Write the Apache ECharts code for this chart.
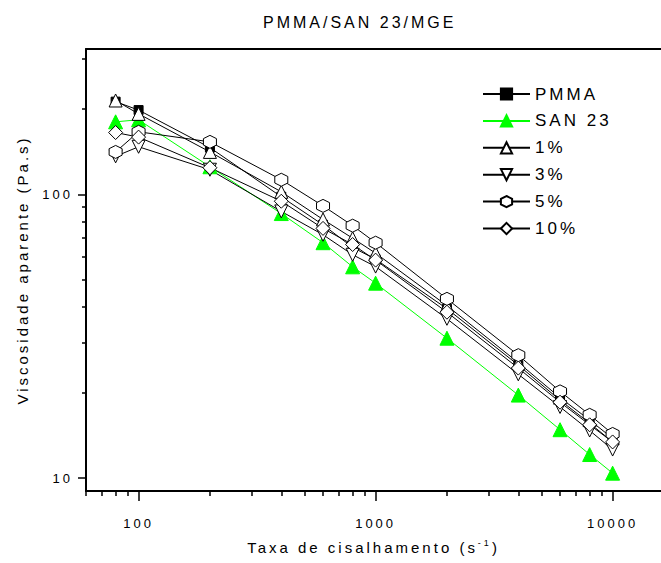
<!DOCTYPE html>
<html>
<head>
<meta charset="utf-8">
<script src="https://cdn.jsdelivr.net/npm/echarts@6/dist/echarts.min.js"></script>
<style>
  html, body { margin: 0; padding: 0; background: #fff; }
  #chart { width: 661px; height: 563px; letter-spacing: 3px; }
</style>
</head>
<body>
<div id="chart"></div>
<script>
// Shear rates (s^-1) and apparent viscosities (Pa.s) for each blend
const shearRates = [80, 100, 200, 400, 600, 800, 1000, 2000, 4000, 6000, 8000, 10000];
const pmma   = [212, 198, 146, 98, 78, 65, 59, 39.5, 25, 18.8, 15.6, 13.4];
const san23  = [180, 183, 125, 85.5, 67.5, 55.5, 48.6, 31.1, 19.6, 14.8, 12.1, 10.4];
const pct1   = [214, 192, 141, 102, 81.5, 70, 62, 40.5, 25.5, 19.2, 16, 13.8];
const pct3   = [136, 147, 122, 87, 72, 61.2, 55.6, 36.4, 23.2, 17.8, 14.7, 12.6];
const pct5   = [141, 166, 153, 112.5, 91, 77.5, 67.5, 42.8, 27.1, 20.2, 16.7, 14.3];
const pct10  = [165, 159, 124, 94.5, 75.8, 66.5, 58.6, 38.4, 24.4, 18.5, 15.4, 13.4];

const seriesNames = ['PMMA', 'SAN 23', '1%', '3%', '5%', '10%'];

// Axis ticks
const xMajorTicks = [100, 1000, 10000];
const xMinorTicks = [60, 70, 80, 90, 200, 300, 400, 500, 600, 700, 800, 900,
                     2000, 3000, 4000, 5000, 6000, 7000, 8000, 9000];
const yMajorTicks = [10, 100];
const yMinorTicks = [20, 30, 40, 50, 60, 70, 80, 90, 200, 300];

// Text is drawn with wide letter spacing; measure it the same way so layout stays aligned
const LETTER_SPACING = '3px';
const measureCtx = document.createElement('canvas').getContext('2d');
echarts.setPlatformAPI({
  measureText(text, font) {
    measureCtx.font = font || '12px sans-serif';
    measureCtx.letterSpacing = LETTER_SPACING;
    return measureCtx.measureText(text);
  }
});

const hexagon = 'path://M1,0 L1.866,0.5 L1.866,1.5 L1,2 L0.134,1.5 L0.134,0.5 Z';

function pairs(ys) { return shearRates.map((x, i) => [x, ys[i]]); }

function mkSeries(name, ys, opts) {
  return Object.assign({
    name: name,
    type: 'line',
    xAxisIndex: 0,
    yAxisIndex: 0,
    data: pairs(ys),
    lineStyle: { color: '#000', width: 1 },
    itemStyle: { color: '#fff', borderColor: '#000', borderWidth: 1 },
    symbolSize: 13,
    emphasis: { disabled: true },
    silent: true
  }, opts);
}

const xRange = { min: 60, max: 16000 };
const yRange = { min: 9, max: 325 };
const axisFont = { fontFamily: 'Liberation Sans, Arial, sans-serif', color: '#000' };

const chart = echarts.init(document.getElementById('chart'), null, { renderer: 'svg' });
chart.setOption({
  animation: false,
  backgroundColor: '#fff',
  title: {
    text: 'PMMA/SAN 23/MGE',
    left: 263,
    top: 13,
    padding: 0,
    textStyle: Object.assign({ fontSize: 16, fontWeight: 'normal' }, axisFont)
  },
  grid: { left: 86, right: 0, top: 49, bottom: 72 },
  legend: {
    orient: 'vertical',
    left: 477,
    top: 79,
    itemWidth: 47,
    itemHeight: 14,
    itemGap: 6.9,
    selectedMode: false,
    data: seriesNames,
    textStyle: Object.assign({ fontSize: 17 }, axisFont)
  },
  xAxis: [
    {
      type: 'log', logBase: 10, min: xRange.min, max: xRange.max,
      position: 'bottom',
      name: 'Taxa de cisalhamento (s{sup|-1})',
      nameLocation: 'middle',
      nameGap: 46,
      nameTextStyle: Object.assign({
        fontSize: 15,
        rich: { sup: Object.assign({ fontSize: 9, verticalAlign: 'top', padding: [0, 0, 8, 0] }, axisFont) }
      }, axisFont),
      axisLine: { lineStyle: { color: '#000', width: 2 } },
      axisTick: { customValues: xMajorTicks, length: 10, lineStyle: { color: '#000', width: 1.5 } },
      axisLabel: Object.assign({ customValues: xMajorTicks, fontSize: 13, margin: 24,
        formatter: v => String(Math.round(v)) }, axisFont),
      splitLine: { show: false },
      minorTick: { show: false }
    },
    {
      type: 'log', logBase: 10, min: xRange.min, max: xRange.max,
      position: 'bottom',
      axisLine: { show: false },
      axisTick: { customValues: xMinorTicks, length: 5, lineStyle: { color: '#000', width: 1.5 } },
      axisLabel: { show: false },
      splitLine: { show: false }
    },
    {
      type: 'log', logBase: 10, min: xRange.min, max: xRange.max,
      position: 'top',
      axisLine: { lineStyle: { color: '#000', width: 2 } },
      axisTick: { show: false },
      axisLabel: { show: false },
      splitLine: { show: false }
    }
  ],
  yAxis: [
    {
      type: 'log', logBase: 10, min: yRange.min, max: yRange.max,
      position: 'left',
      name: 'Viscosidade aparente (Pa.s)',
      nameLocation: 'middle',
      nameGap: 54,
      nameTextStyle: Object.assign({ fontSize: 15 }, axisFont),
      axisLine: { lineStyle: { color: '#000', width: 2 } },
      axisTick: { customValues: yMajorTicks, length: 8, lineStyle: { color: '#000', width: 1.5 } },
      axisLabel: Object.assign({ customValues: yMajorTicks, fontSize: 13, margin: 13,
        formatter: v => String(Math.round(v)) }, axisFont),
      splitLine: { show: false }
    },
    {
      type: 'log', logBase: 10, min: yRange.min, max: yRange.max,
      position: 'left',
      axisLine: { show: false },
      axisTick: { customValues: yMinorTicks, length: 4, lineStyle: { color: '#000', width: 1.5 } },
      axisLabel: { show: false },
      splitLine: { show: false }
    }
  ],
  series: [
    mkSeries('PMMA', pmma, {
      symbol: 'rect', symbolSize: 9,
      itemStyle: { color: '#000', borderColor: '#000', borderWidth: 1 }
    }),
    mkSeries('SAN 23', san23, {
      symbol: 'triangle', symbolSize: 14,
      lineStyle: { color: '#00ff00', width: 1 },
      itemStyle: { color: '#00ff00', borderColor: '#00ff00', borderWidth: 1 }
    }),
    mkSeries('1%', pct1, { symbol: 'triangle', symbolSize: 13 }),
    mkSeries('3%', pct3, { symbol: 'triangle', symbolRotate: 180, symbolSize: 13 }),
    mkSeries('5%', pct5, { symbol: hexagon, symbolSize: 13 }),
    mkSeries('10%', pct10, { symbol: 'diamond', symbolSize: 14 })
  ]
});
</script>
</body>
</html>
